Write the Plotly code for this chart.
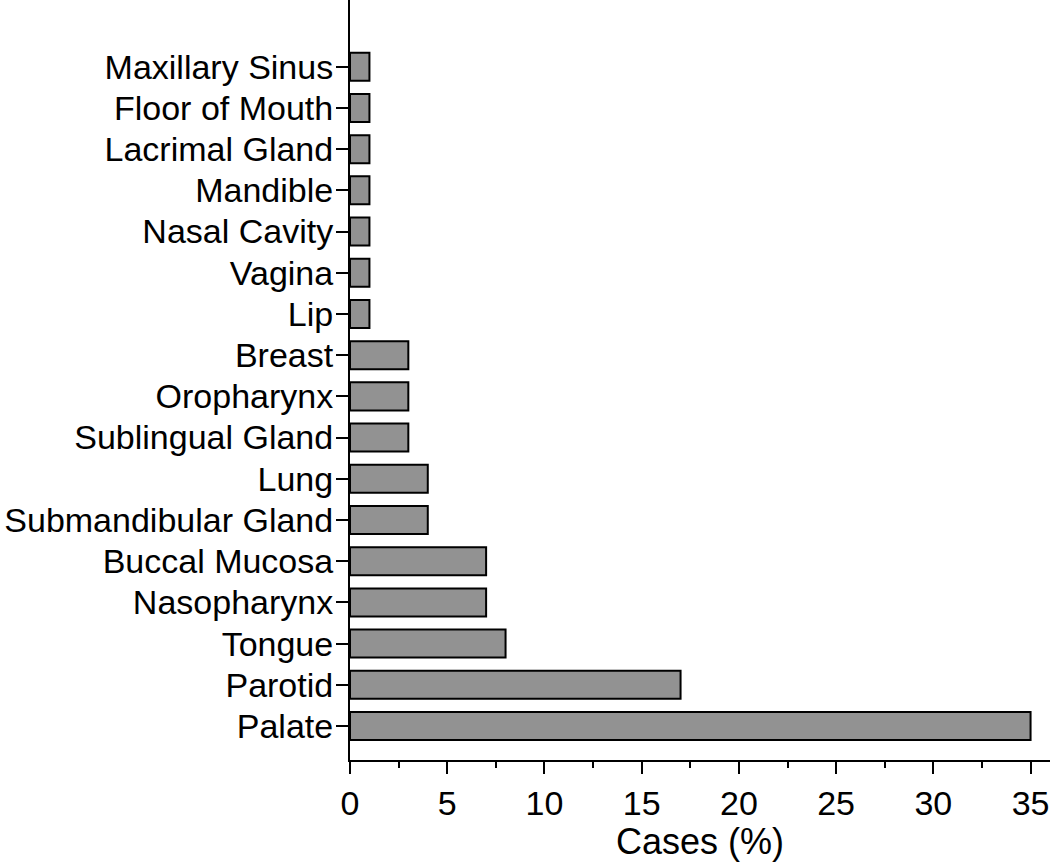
import plotly.graph_objects as go

categories = ["Palate", "Parotid", "Tongue", "Nasopharynx", "Buccal Mucosa",
              "Submandibular Gland", "Lung", "Sublingual Gland", "Oropharynx",
              "Breast", "Lip", "Vagina", "Nasal Cavity", "Mandible",
              "Lacrimal Gland", "Floor of Mouth", "Maxillary Sinus"]
cases_pct = [35, 17, 8, 7, 7, 4, 4, 3, 3, 3, 1, 1, 1, 1, 1, 1, 1]
x_ticks = [0, 5, 10, 15, 20, 25, 30, 35]

fig = go.Figure(go.Bar(
    x=cases_pct, y=list(range(len(categories))), orientation="h",
    width=0.68,
    marker=dict(color="#929292", line=dict(color="black", width=2)),
))

family = "Liberation Sans, Arial, sans-serif"
font = dict(family=family, size=34, color="black")

fig.update_layout(
    width=1050, height=862,
    margin=dict(l=350, r=0, t=0, b=102),
    plot_bgcolor="white", paper_bgcolor="white",
    showlegend=False,
    font=font,
    xaxis=dict(
        range=[0, 36], tickvals=x_ticks, ticktext=[str(v) for v in x_ticks],
        showline=True, linecolor="black", linewidth=2,
        ticks="outside", ticklen=12, tickwidth=2, tickcolor="black",
        minor=dict(dtick=2.5, tick0=0, ticks="outside", ticklen=6, tickwidth=2, tickcolor="black"),
        showgrid=False, zeroline=False, automargin=False,
        tickfont=dict(family=family, size=34, color="black"),
        title=dict(text="Cases (%)", font=dict(family=family, size=36, color="black"), standoff=4),
    ),
    yaxis=dict(
        range=[-0.825, 17.62],
        tickvals=list(range(len(categories))), ticktext=categories,
        showline=True, linecolor="black", linewidth=2,
        ticks="outside", ticklen=12, tickwidth=2, tickcolor="black",
        ticklabelstandoff=-4,
        showgrid=False, zeroline=False, automargin=False,
        tickfont=dict(family=family, size=34, color="black"),
    ),
)

fig.write_html(
    "out.html",
    config={"displayModeBar": False},
    post_script="document.body.style.margin='0';document.body.style.overflow='hidden';",
)
